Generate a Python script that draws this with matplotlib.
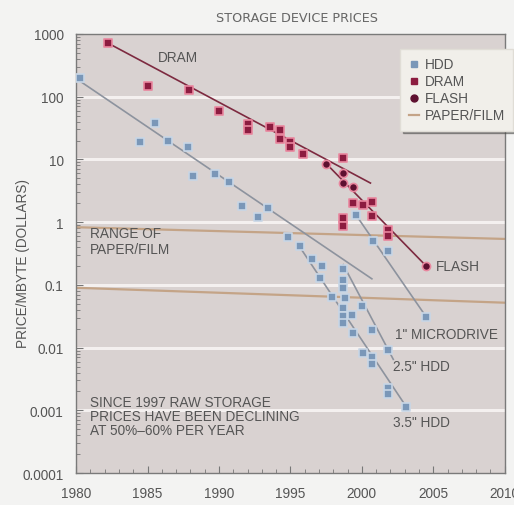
import numpy as np
import matplotlib
matplotlib.use("Agg")
import matplotlib.pyplot as plt
from matplotlib.lines import Line2D

plt.rcParams['font.family'] = ['Liberation Sans', 'DejaVu Sans']

# ---- data -------------------------------------------------------------
hdd_year = [1980.3, 1984.5, 1985.5, 1986.4, 1987.8, 1988.2, 1989.7, 1990.7,
            1991.6, 1992.7, 1993.4, 1994.8, 1995.7, 1996.5, 1997.2, 1997.1,
            1997.9, 1998.7, 1998.7, 1998.7, 1998.8, 1998.7, 1998.7, 1998.7,
            1999.3, 2000.0, 1999.4, 2000.7, 2000.1, 2000.7, 2000.7, 2001.8,
            2001.8, 2001.8, 2003.1, 1999.6, 2000.8, 2001.8, 2004.5]
hdd_price = [200, 18.6, 38, 20, 16, 5.4, 5.8, 4.3,
             1.8, 1.2, 1.67, 0.58, 0.42, 0.26, 0.2, 0.13,
             0.065, 0.18, 0.12, 0.09, 0.062, 0.043, 0.032, 0.025,
             0.033, 0.046, 0.017, 0.019, 0.0083, 0.0072, 0.0054, 0.0093,
             0.0023, 0.0018, 0.00115, 1.29, 0.5, 0.35, 0.031]

dram_year = [1982.2, 1985.0, 1987.9, 1990.0, 1992.0, 1992.0, 1993.6, 1994.3,
             1994.3, 1995.0, 1995.0, 1995.9, 1998.7, 1999.4, 2000.1, 2000.7,
             2000.7, 1998.7, 1998.7, 2001.8, 2001.8]
dram_price = [720, 150, 128, 60, 36, 29, 33, 29,
              21.5, 19, 16, 12, 10.4, 2.0, 1.86, 2.07,
              1.24, 1.16, 0.86, 0.75, 0.6]

flash_year = [1997.5, 1998.7, 1998.7, 1999.4, 2004.5]
flash_price = [8.6, 6.0, 4.2, 3.6, 0.2]

# trend lines: (start year, start price, end year, end price)
dram_trend = [(1982.2, 720, 2000.6, 4.2),
              (1997.5, 8.6, 2004.5, 0.2)]
hdd_trend = [(1980.3, 175, 2000.7, 0.125),
             (1995.6, 0.42, 2003.1, 0.00115),
             (1998.7, 0.21, 2002.2, 0.0065),
             (1999.6, 1.29, 2004.5, 0.031)]
paper_upper = ([1980, 2010], [0.83, 0.54])
paper_lower = ([1980, 2010], [0.09, 0.052])

x_ticks = [1980, 1985, 1990, 1995, 2000, 2005, 2010]
y_ticks = [0.0001, 0.001, 0.01, 0.1, 1, 10, 100, 1000]
y_labels = ['0.0001', '0.001', '0.01', '0.1', '1', '10', '100', '1000']

# ---- colours ----------------------------------------------------------
bg = '#d9d2d1'
hdd_c = '#7a97b8'
hdd_edge = '#c8d6e6'
dram_c = '#8c1c40'
dram_edge = '#e9869e'
flash_c = '#5e1030'
trend_dram = '#7d2a40'
trend_hdd = '#8d939e'
paper_c = '#c4a487'
txt = '#555555'
fs = 9.8

fig = plt.figure(figsize=(5.14, 5.06), dpi=100, facecolor='#f3f3f2')
ax = fig.add_axes([0.148, 0.063, 0.834, 0.868])
ax.set_facecolor(bg)
ax.set_yscale('log')
ax.set_xlim(1980, 2010)
ax.set_ylim(0.0001, 1000)

for v in [0.001, 0.01, 0.1, 1, 10, 100]:
    ax.axhline(v, color='#f4f0ef', lw=2.2, zorder=1)

ax.plot(*paper_upper, color=paper_c, lw=1.6, zorder=2)
ax.plot(*paper_lower, color=paper_c, lw=1.6, zorder=2)

for x0, y0, x1, y1 in hdd_trend:
    ax.plot([x0, x1], [y0, y1], color=trend_hdd, lw=1.2, zorder=3)
for x0, y0, x1, y1 in dram_trend:
    ax.plot([x0, x1], [y0, y1], color=trend_dram, lw=1.2, zorder=3)

ax.scatter(hdd_year, hdd_price, marker='s', s=34, color=hdd_c,
           edgecolors=hdd_edge, linewidths=1.2, zorder=4)
ax.scatter(dram_year, dram_price, marker='s', s=34, color=dram_c,
           edgecolors=dram_edge, linewidths=1.2, zorder=5)
ax.scatter(flash_year, flash_price, marker='o', s=34, color=flash_c,
           edgecolors=dram_edge, linewidths=1.2, zorder=5)

ax.set_xticks(x_ticks)
ax.set_xticklabels([str(t) for t in x_ticks])
ax.set_xticks(np.arange(1980, 2011, 1), minor=True)
ax.set_yticks(y_ticks)
ax.set_yticklabels(y_labels)
ax.tick_params(axis='both', which='both', direction='in', colors='#777777',
               labelcolor=txt, labelsize=fs)
ax.tick_params(axis='both', which='major', length=5, width=0.8)
ax.tick_params(axis='both', which='minor', length=3, width=0.6)
ax.tick_params(axis='x', pad=9)
ax.tick_params(axis='y', pad=9)
for s in ax.spines.values():
    s.set_color('#7a7a7a')
    s.set_linewidth(1.0)

fig.text(0.045, 0.48, 'PRICE/MBYTE (DOLLARS)', fontsize=fs, color=txt,
         rotation=90, ha='center', va='center')
fig.text(0.578, 0.964, 'STORAGE DEVICE PRICES', fontsize=9.2, color='#666666',
         ha='center', va='center', family='DejaVu Sans')

ax.text(1985.7, 430, 'DRAM', fontsize=fs, color=txt, va='center')
ax.text(1981.0, 0.5, 'RANGE OF\nPAPER/FILM', fontsize=fs, color=txt,
        va='center', linespacing=1.15)
ax.text(2005.2, 0.2, 'FLASH', fontsize=fs, color=txt, va='center')
ax.text(2002.3, 0.0165, '1" MICRODRIVE', fontsize=fs, color=txt, va='center')
ax.text(2002.2, 0.0051, '2.5" HDD', fontsize=fs, color=txt, va='center')
ax.text(2002.2, 0.00066, '3.5" HDD', fontsize=fs, color=txt, va='center')
ax.text(1981.0, 0.00082, 'SINCE 1997 RAW STORAGE\nPRICES HAVE BEEN DECLINING\nAT 50%–60% PER YEAR',
        fontsize=fs, color=txt, va='center', linespacing=1.0)

handles = [
    Line2D([], [], marker='s', ls='none', color=hdd_c, markersize=5),
    Line2D([], [], marker='s', ls='none', color=dram_c, markersize=5),
    Line2D([], [], marker='o', ls='none', color=flash_c, markersize=5),
    Line2D([], [], color=paper_c, lw=1.6),
]
leg = ax.legend(handles, ['HDD', 'DRAM', 'FLASH', 'PAPER/FILM'],
                loc='upper right', bbox_to_anchor=(1.02, 0.965), fontsize=fs,
                frameon=True, fancybox=False, shadow=True, handlelength=0.8,
                handletextpad=0.4, labelspacing=0.22, borderpad=0.6,
                borderaxespad=0.0)
leg.get_frame().set_facecolor('#f1efea')
leg.get_frame().set_edgecolor('#e0ddd6')
for t in leg.get_texts():
    t.set_color(txt)

fig.savefig('out.png', dpi=100, facecolor=fig.get_facecolor())
